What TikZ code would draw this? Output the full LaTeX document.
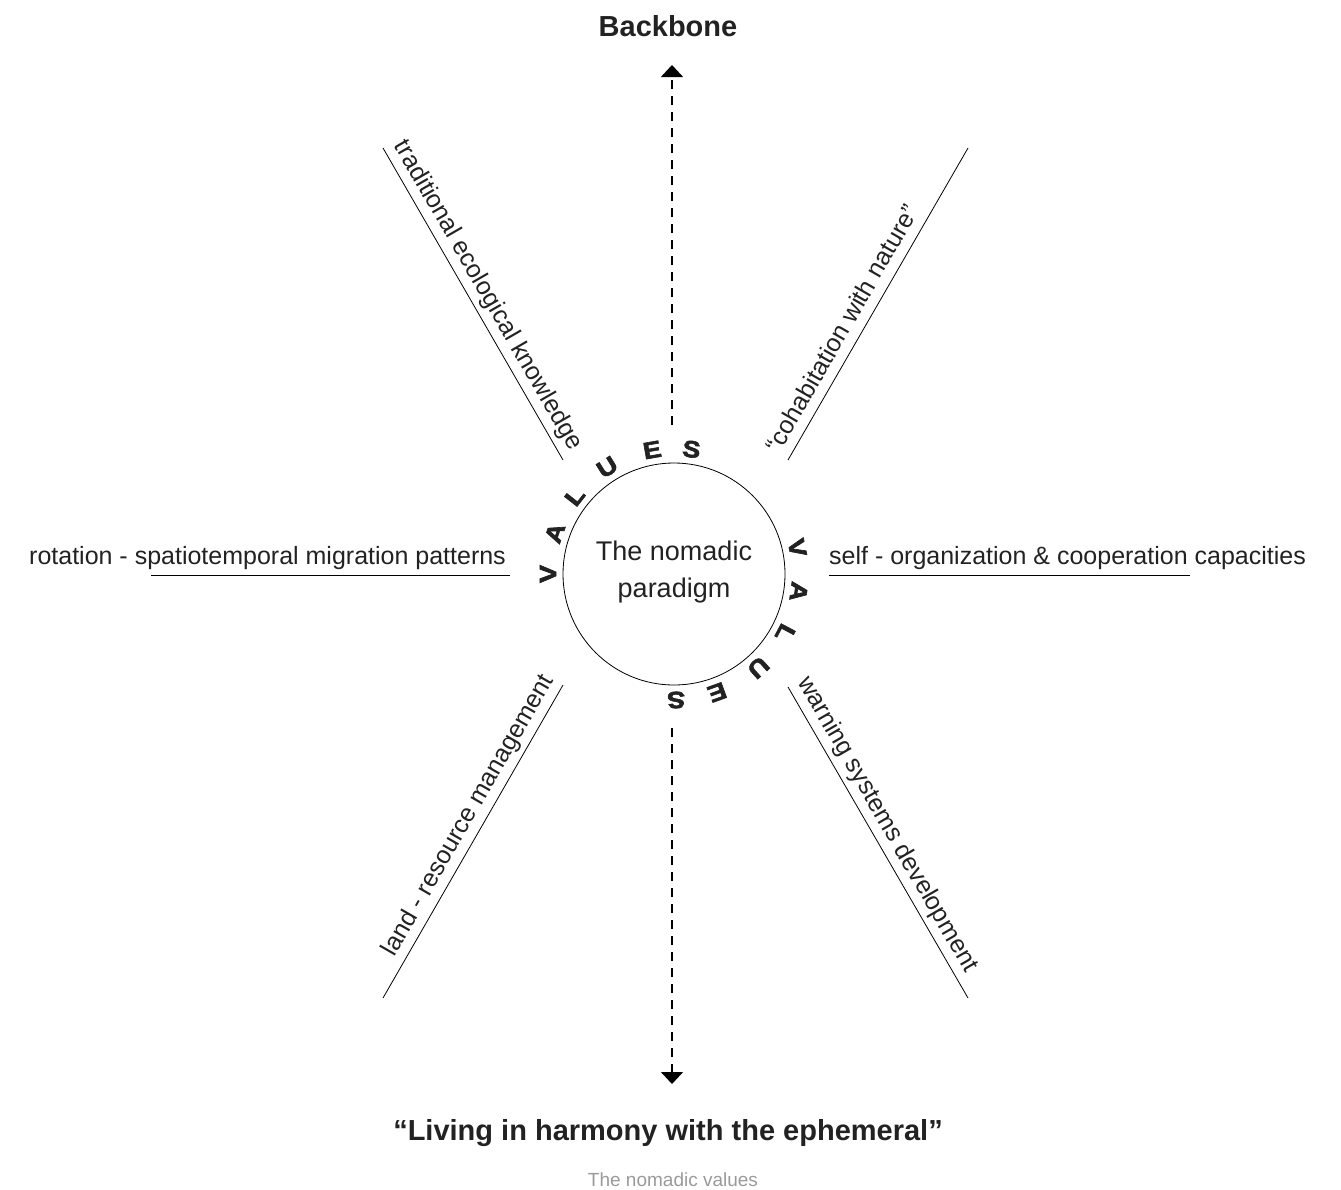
\documentclass[tikz,border=0pt]{standalone}
\usepackage{fontspec}
\setmainfont{Liberation Sans}
\newfontfamily\heavyfont{Liberation Sans}[BoldFeatures={FakeBold=2.5}]
\usetikzlibrary{arrows.meta,calc}
\definecolor{ink}{HTML}{222222}
\definecolor{capgray}{HTML}{9A9A9A}
\begin{document}
\begin{tikzpicture}[x=1pt,y=-1pt,
  lbl/.style={font=\fontsize{25}{30}\selectfont, text=ink, inner xsep=0pt, inner ysep=4.5pt, text depth=5.5pt},
  rule/.style={draw=black, line width=0.8pt},
  axis/.style={draw=black, line width=1.3pt, dash pattern=on 9pt off 7pt, -{Triangle[width=22pt,length=12pt]}},
  letter/.style={font=\heavyfont\bfseries\fontsize{23.5}{24}\selectfont, text=ink, inner sep=0pt},
  title/.style={font=\fontsize{29}{34}\selectfont\bfseries, text=ink, inner sep=0pt}]
\useasboundingbox (0,0) rectangle (1341,1189);

% central circle
\node[circle, draw, line width=0.8pt, minimum size=222pt, inner sep=0pt] (c) at (674,574) {};
\node[font=\fontsize{27}{37}\selectfont, align=center, text=ink, inner sep=0pt] (ct) at (674,572) {The nomadic\\paradigm};

% VALUES letters
\foreach \a/\l [count=\i] in {180/V,161/A,142/L,122/U,100/E,82/S,12/V,-8/A,-28/L,-48/U,-70/E,-89/S}
  \node[letter, rotate=\a-90] (L\i) at ($(c.center)+(\a:126pt)$) {\scalebox{1.15}[1]{\l}};

% axes
\coordinate (upS) at (672,425);
\coordinate (upE) at (672,65);
\coordinate (dnS) at (672,728);
\coordinate (dnE) at (672,1084);
\draw[axis] (upS) -- (upE);
\draw[axis] (dnS) -- (dnE);
\node[title, anchor=base] (bb) at (668,36) {Backbone};
\node[title, anchor=base] (live) at (668,1140) {“Living in harmony with the ephemeral”};
\node[font=\fontsize{19}{22}\selectfont, text=capgray, inner sep=0pt, anchor=base] (cap) at (673,1186) {The nomadic values};

% diagonal rules
\coordinate (tlA) at (383,148); \coordinate (tlB) at (563,460);
\coordinate (trA) at (788,460); \coordinate (trB) at (968,148);
\coordinate (blA) at (383,998); \coordinate (blB) at (563,685);
\coordinate (brA) at (788,687); \coordinate (brB) at (968,998);
\draw[rule] (tlA) -- node[lbl, sloped, pos=0.5, anchor=south] (tlT) {traditional ecological knowledge} (tlB);
\draw[rule] (trA) -- node[lbl, sloped, pos=0, anchor=south west] (trT) {“cohabitation with nature”} (trB);
\draw[rule] (blA) -- node[lbl, sloped, pos=1, anchor=south east] (blT) {land - resource management} (blB);
\draw[rule] (brA) -- node[lbl, sloped, pos=0, anchor=south west] (brT) {warning systems development} (brB);

% horizontal rules
\coordinate (lA) at (151,575); \coordinate (lB) at (510,575);
\coordinate (rA) at (829,575); \coordinate (rB) at (1190,575);
\draw[rule] (lA) -- (lB);
\draw[rule] (rA) -- (rB);
\node[lbl, anchor=south east] (lT) at (506,575) {rotation - spatiotemporal migration patterns};
\node[lbl, anchor=south west] (rT) at (829,575) {self - organization \& cooperation capacities};
\end{tikzpicture}
\end{document}
